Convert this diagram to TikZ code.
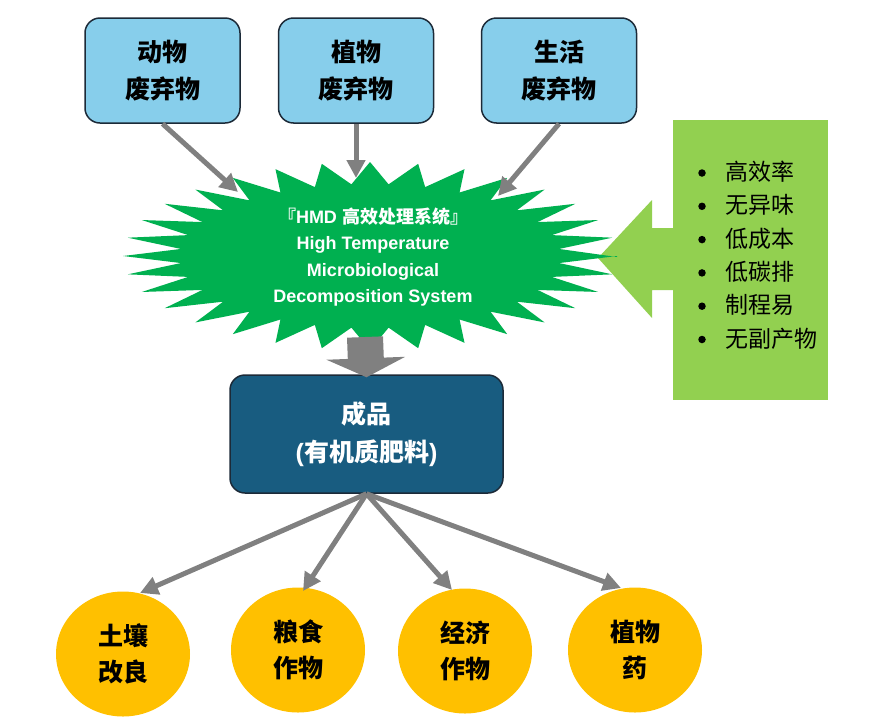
\documentclass[tikz,border=0pt]{standalone}
\usepackage{fontspec}
\setmainfont{Liberation Sans}
\newfontfamily\cjk{Noto Sans CJK SC}
\newfontfamily\latin{Liberation Sans}
\usetikzlibrary{arrows.meta,shapes.geometric}
\definecolor{boxblue}{RGB}{135,206,235}
\definecolor{edgec}{RGB}{28,42,56}
\definecolor{prodc}{RGB}{24,92,128}
\definecolor{burstc}{RGB}{0,176,80}
\definecolor{lgreen}{RGB}{146,208,80}
\definecolor{gold}{RGB}{255,192,0}
\definecolor{arrowc}{RGB}{128,128,128}
\begin{document}
\begin{tikzpicture}[x=1pt,y=-1pt,
  srcbox/.style={draw=edgec, line width=1.5pt, fill=boxblue, rounded corners=15pt,
    minimum width=155pt, minimum height=105pt, inner sep=0pt, align=center,
    font=\cjk\bfseries\fontsize{25}{37}\selectfont},
  prodbox/.style={draw=edgec, line width=1.5pt, fill=prodc, rounded corners=15pt,
    minimum width=273pt, minimum height=118pt, inner sep=0pt, align=center, text=white,
    font=\cjk\bfseries\fontsize{25}{38}\selectfont},
  usebox/.style={ellipse, fill=gold, minimum width=134pt, minimum height=125pt,
    inner sep=0pt, align=center, font=\cjk\bfseries\fontsize{25}{36}\selectfont},
  conn/.style={draw=arrowc, line width=5pt, -{Triangle[length=18pt,width=18pt]}},
  bigarrow/.style={draw=arrowc, line width=36pt, -{Triangle[length=19pt,width=78pt]}},
  item/.style={anchor=west, inner sep=0pt, font=\cjk\fontsize{23}{23}\selectfont},
  dot/.style={circle, fill=black, inner sep=0pt, minimum size=7.5pt}
]
\useasboundingbox (0,0) rectangle (885,726);

% advantages panel and its arrow
\node[fill=lgreen, minimum width=155pt, minimum height=280pt, inner sep=0pt, anchor=north west] (adv) at (673,120) {};
\fill[lgreen] (675,228) -- (652,228) -- (652,200) -- (598,258) -- (652,318) -- (652,290) -- (675,290) -- cycle;
\foreach \t [count=\k] in {高效率,无异味,低成本,低碳排,制程易,无副产物} {
  \node[dot] (d\k) at (702,{173+33.3*(\k-1)}) {};
  \node[item] (b\k) at (725,{172+33.3*(\k-1)}) {\t};
}

% starburst
\fill[burstc] (617,257)
  \foreach \i in {0,...,31} {
    -- ({370+247*cos(\i*11.25)},{256+94*sin(\i*11.25)})
    -- ({370+190*cos(\i*11.25+5.625)},{256+72*sin(\i*11.25+5.625)})
  } -- cycle;
\node[text=white, align=center, font=\bfseries\fontsize{18}{26.5}\selectfont] (hmd) at (373,257)
  {{\cjk 『}HMD {\cjk 高效处理系统』}\\High Temperature\\Microbiological\\Decomposition System};

% source boxes
\node[srcbox] (s1) at (162.5,70.5) {动物\\废弃物};
\node[srcbox] (s2) at (356,70.5) {植物\\废弃物};
\node[srcbox] (s3) at (559,70.5) {生活\\废弃物};

\coordinate (t1) at (238,192);
\coordinate (t2) at (356,178);
\coordinate (t3) at (498,196);
\draw[conn] (s1.south) -- (t1);
\draw[conn] (s2.south) -- (t2);
\draw[conn] (s3.south) -- (t3);

% product box
\node[prodbox] (prod) at (366.5,434) {成品\\{\latin (}有机质肥料{\latin )}};
\coordinate (bt) at (365,337);
\draw[bigarrow] (bt) -- ([yshift=-3pt]prod.north);

% uses
\node[usebox] (c1) at (123,654) {土壤\\改良};
\node[usebox] (c2) at (298,650) {粮食\\作物};
\node[usebox] (c3) at (465,651) {经济\\作物};
\node[usebox] (c4) at (635,650) {植物\\药};

\coordinate (e1) at (140,593);
\coordinate (e2) at (303,591);
\coordinate (e3) at (452,590);
\coordinate (e4) at (621,588);
\foreach \k in {1,2,3,4} \draw[conn] (prod.south) -- (e\k);
\end{tikzpicture}
\end{document}
